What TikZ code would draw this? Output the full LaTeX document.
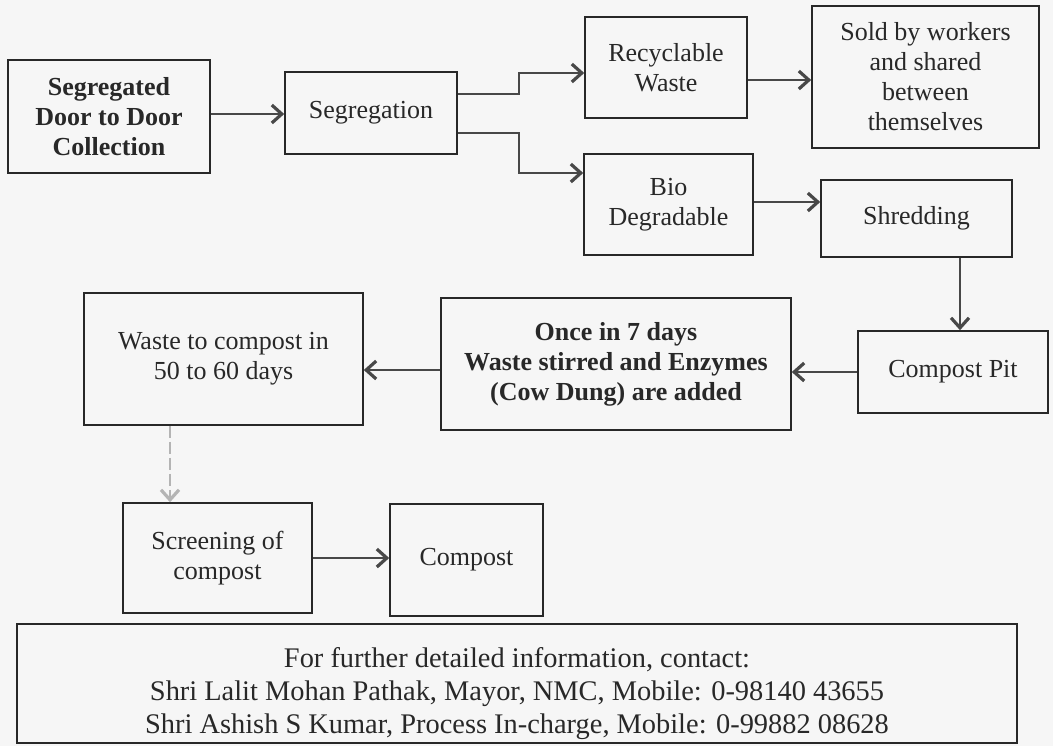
\documentclass[tikz,border=0pt]{standalone}
\usepackage{fontspec}
\setmainfont{Liberation Serif}
\usetikzlibrary{arrows.meta}
\definecolor{paper}{RGB}{246,246,246}
\definecolor{ink}{RGB}{40,40,40}
\tikzset{
  box/.style={draw=ink, line width=0.8pt, align=center, inner sep=2pt,
    font=\fontsize{13}{15}\selectfont, text=ink},
  arr/.style={draw=ink!85, line width=1.2pt,
    -{Straight Barb[length=5pt,width=9pt,line width=1.6pt]}},
  faint/.style={arr, draw=ink!35, dash pattern=on 6pt off 2pt}
}
\begin{document}
\begin{tikzpicture}[x=0.5pt, y=-0.5pt]
  \fill[paper] (0,0) rectangle (1053,746);
  \useasboundingbox (0,0) rectangle (1053,746);

  % Top row
  \node[box, minimum width=101pt, minimum height=56.5pt, font=\fontsize{13}{15}\selectfont\bfseries]
    (door) at (109,116.5) {Segregated\\Door to Door\\Collection};
  \node[box, minimum width=86pt, minimum height=41pt] (seg) at (371,113) {Segregation};
  \node[box, minimum width=81pt, minimum height=50.5pt] (rec) at (666,67.5) {Recyclable\\Waste};
  \node[box, minimum width=113.5pt, minimum height=71pt] (sold) at (925.5,77)
    {Sold by workers\\and shared\\between\\themselves};
  \node[box, minimum width=84.5pt, minimum height=50.5pt] (bio) at (668.5,204.5) {Bio\\Degradable};
  \node[box, minimum width=95.5pt, minimum height=38.5pt] (shred) at (916.5,218.5) {Shredding};

  % Middle row
  \node[box, minimum width=95pt, minimum height=41pt] (pit) at (953,372) {Compost Pit};
  \node[box, minimum width=175pt, minimum height=66pt, font=\fontsize{13}{15}\selectfont\bfseries]
    (once) at (616,364) {Once in 7 days\\Waste stirred and Enzymes\\(Cow Dung) are added};
  \node[box, minimum width=139.5pt, minimum height=66pt] (waste) at (223.5,359)
    {Waste to compost in\\50 to 60 days};

  % Bottom row
  \node[box, minimum width=94.5pt, minimum height=55pt] (screen) at (217.5,558) {Screening of\\compost};
  \node[box, minimum width=76.5pt, minimum height=56pt] (compost) at (466.5,560) {Compost};
  \node[box, minimum width=500pt, minimum height=59.5pt, font=\fontsize{14.2}{16.3}\selectfont]
    (info) at (517,683.5)
    {\rule{0pt}{20pt}For further detailed information, contact:\\
     Shri Lalit Mohan Pathak, Mayor, NMC, Mobile: 0-98140 43655\\
     Shri Ashish S Kumar, Process In-charge, Mobile: 0-99882 08628};

  % Connectors
  \draw[arr] ([yshift=1.25pt]door.east) -- ([yshift=1.25pt]door.east -| seg.west);
  \draw[arr] ([yshift=9.5pt]seg.east) -- ++(61,0) |- ([yshift=-2.75pt]rec.west);
  \draw[arr] ([yshift=-10pt]seg.east) -- ++(61,0) |- ([yshift=15.75pt]bio.west);
  \draw[arr] ([yshift=-6.25pt]rec.east) -- ([yshift=-6.25pt]rec.east -| sold.west);
  \draw[arr] ([yshift=1.25pt]bio.east) -- ([yshift=1.25pt]bio.east -| shred.west);
  \draw[arr] ([xshift=21.75pt]shred.south) -- ([xshift=21.75pt]shred.south |- pit.north);
  \draw[arr] (pit.west) -- (pit.west -| once.east);
  \draw[arr] ([yshift=-3pt]once.west) -- ([yshift=-3pt]once.west -| waste.east);
  \draw[faint] ([xshift=-26.75pt]waste.south) -- ([xshift=-26.75pt]waste.south |- screen.north);
  \draw[arr] (screen.east) -- (screen.east -| compost.west);
\end{tikzpicture}
\end{document}
